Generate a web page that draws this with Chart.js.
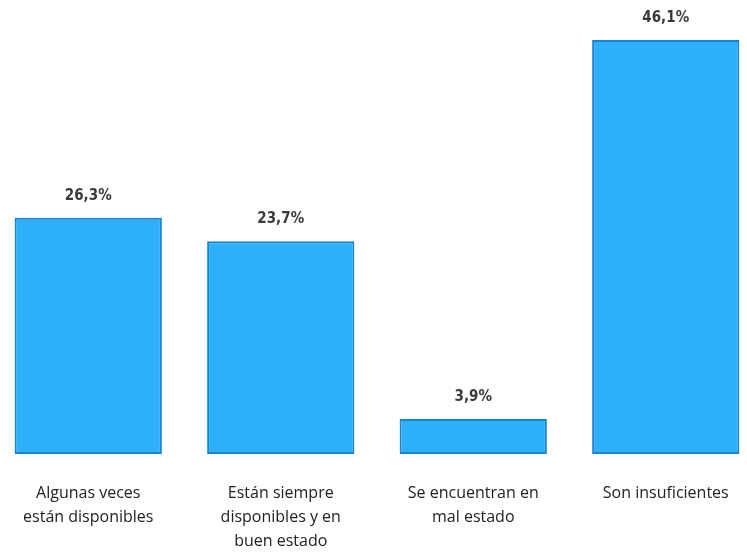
<!DOCTYPE html>
<html>
<head>
<meta charset="utf-8">
<script src="https://cdn.jsdelivr.net/npm/chart.js@4/dist/chart.umd.min.js"></script>
<style>
  html, body { margin: 0; padding: 0; background: #fff; overflow: hidden; }
  #wrap { position: absolute; left: -8px; top: 0; width: 770px; height: 585px; }
</style>
</head>
<body>
<div id="wrap"><canvas id="myChart"></canvas></div>
<script>
// categorias y porcentajes
const categorias = [
  ['Algunas veces', 'están disponibles'],
  ['Están siempre', 'disponibles y en', 'buen estado'],
  ['Se encuentran en', 'mal estado'],
  'Son insuficientes'
];
const porcentajes = [26.3, 23.7, 3.9, 46.1];

// etiqueta de valor encima de cada barra
const valorArriba = {
  id: 'valorArriba',
  afterDatasetsDraw(chart) {
    const ctx = chart.ctx;
    const meta = chart.getDatasetMeta(0);
    ctx.save();
    ctx.font = 'bold 15px "DejaVu Sans Condensed", sans-serif';
    ctx.fillStyle = '#3a3a3a';
    ctx.textAlign = 'center';
    ctx.textBaseline = 'middle';
    meta.data.forEach((bar, i) => {
      ctx.fillText(porcentajes[i].toFixed(1).replace('.', ',') + '%', bar.x, bar.y - 22);
    });
    ctx.restore();
  }
};

var ctx = document.getElementById('myChart').getContext('2d');
var myChart = new Chart(ctx, {
  type: 'bar',
  data: {
    labels: categorias,
    datasets: [{
      data: porcentajes,
      backgroundColor: '#2daffa',
      borderColor: '#1786d2',
      borderWidth: 2,
      borderSkipped: false,
      barPercentage: 0.765,
      categoryPercentage: 1
    }]
  },
  options: {
    responsive: true,
    maintainAspectRatio: false,
    animation: false,
    layout: { padding: { top: 5, bottom: 5 } },
    plugins: { legend: { display: false }, tooltip: { enabled: false } },
    scales: {
      x: {
        grid: { display: false, drawTicks: false },
        border: { display: false },
        ticks: {
          color: '#222',
          padding: 27,
          maxRotation: 0,
          autoSkip: false,
          font: { family: '"Open Sans", sans-serif', size: 16, lineHeight: 1.5 }
        }
      },
      y: {
        display: false,
        min: 0,
        max: 50
      }
    }
  },
  plugins: [valorArriba]
});
</script>
</body>
</html>
